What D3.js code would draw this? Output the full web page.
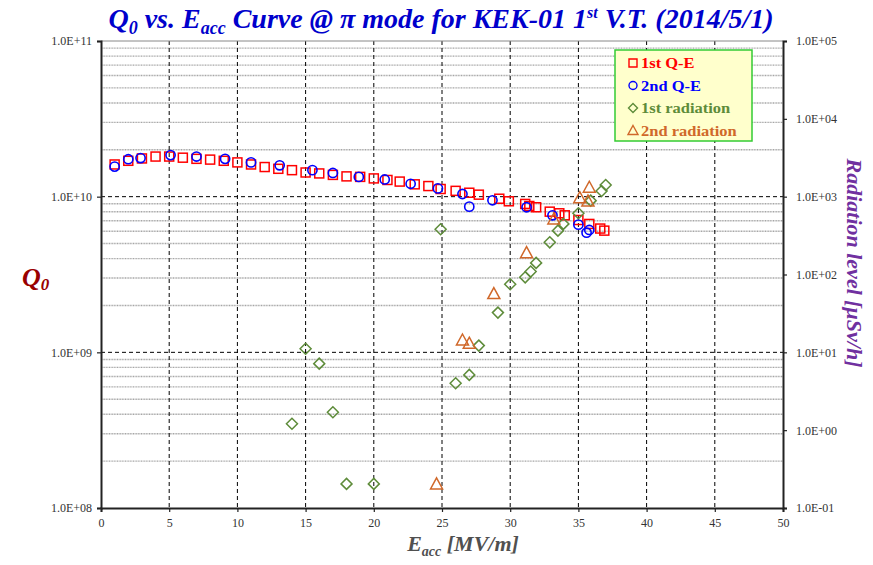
<!DOCTYPE html>
<html>
<head>
<meta charset="utf-8">
<script src="https://cdn.jsdelivr.net/npm/d3@7"></script>
<style>
  body { margin: 0; background: #fff; }
  text { font-family: "Liberation Serif", "Times New Roman", serif; }
</style>
</head>
<body>
<div id="chart"></div>
<script>
// 1st Q-E (red squares)
const eQE1 = [1, 2, 3, 4, 5, 6, 7, 8, 9, 10, 11, 12, 13, 14, 15, 16, 17, 18, 19, 20,
    21, 21.9, 23, 24, 24.9, 26, 27, 27.7, 29.2, 29.9, 31.1, 31.4, 31.9, 32.9, 33.6, 34, 35, 35.8, 36.6, 36.9];
const qQE1 = [1.61e10, 1.70e10, 1.76e10, 1.81e10, 1.81e10, 1.78e10, 1.75e10, 1.73e10, 1.70e10, 1.66e10,
    1.61e10, 1.55e10, 1.51e10, 1.48e10, 1.43e10, 1.41e10, 1.38e10, 1.35e10, 1.34e10, 1.31e10,
    1.28e10, 1.25e10, 1.20e10, 1.17e10, 1.12e10, 1.09e10, 1.06e10, 1.03e10, 9.7e9, 9.34e9,
    8.98e9, 8.71e9, 8.55e9, 8.01e9, 7.82e9, 7.59e9, 7.08e9, 6.68e9, 6.24e9, 6.05e9];

// 2nd Q-E (blue circles)
const eQE2 = [1, 2, 2.9, 5.1, 7, 9.1, 11, 13.1, 15.5, 17, 18.9, 20.8, 22.7, 24.7, 26.5, 27, 28.7, 31.2, 33.1, 35, 35.8, 35.6];
const qQE2 = [1.56e10, 1.74e10, 1.77e10, 1.85e10, 1.81e10, 1.75e10, 1.66e10, 1.59e10, 1.48e10, 1.42e10,
    1.34e10, 1.29e10, 1.21e10, 1.13e10, 1.04e10, 8.63e9, 9.48e9, 8.55e9, 7.59e9, 6.61e9, 6.11e9, 5.87e9];

// 1st radiation (green diamonds), uSv/h
const eRad1 = [14, 15, 16, 17, 18, 20, 24.9, 26, 27, 27.7, 29.1, 30, 31.1, 31.5, 31.9, 32.9, 33.5, 33.9, 35, 35.9, 36.7, 37];
const rad1 = [1.21, 11.1, 7.16, 1.70, 0.204, 0.204, 381, 4.0, 5.13, 12.2, 32.4, 75, 92, 109, 141, 259, 366, 447, 612, 889, 1183, 1413];

// 2nd radiation (orange triangles), uSv/h
const eRad2 = [24.6, 26.5, 27, 28.8, 31.2, 33.2, 35.1, 35.7, 35.8];
const rad2 = [0.204, 14.4, 13.1, 56.8, 191, 517, 970, 881, 1321];

const xTicks = [0, 5, 10, 15, 20, 25, 30, 35, 40, 45, 50];
const qTicks = [1e8, 1e9, 1e10, 1e11];
const radTicks = [1e-1, 1e0, 1e1, 1e2, 1e3, 1e4, 1e5];
const legendNames = ["1st Q-E", "2nd Q-E", "1st radiation", "2nd radiation"];
const colors = ["#ff0000", "#0000ff", "#5e8c3a", "#d0682a"];

const W = 873, H = 565;
const plotL = 101, plotR = 783, plotT = 41, plotB = 508;

const svg = d3.select("#chart")
    .append("svg")
    .attr("width", W)
    .attr("height", H);

const x = d3.scaleLinear().domain([0, 50]).range([plotL, plotR]);
const y = d3.scaleLog().domain([1e8, 1e11]).range([plotB, plotT]);
const y2 = d3.scaleLog().domain([1e-1, 1e5]).range([plotB, plotT]);

function sci(d) {
    const e = Math.round(Math.log10(d));
    const s = Math.abs(e) < 10 ? "0" + Math.abs(e) : "" + Math.abs(e);
    return "1.0E" + (e < 0 ? "-" : "+") + s;
}

// minor horizontal grid
const minors = [];
[1e8, 1e9, 1e10].forEach(function (dec) {
    for (let k = 2; k <= 9; k++) minors.push(dec * k);
});
svg.append("g").selectAll("line")
    .data(minors)
    .enter()
    .append("line")
    .attr("x1", plotL).attr("x2", plotR)
    .attr("y1", function (d) { return y(d); })
    .attr("y2", function (d) { return y(d); })
    .attr("stroke", "#a6a6a6")
    .attr("stroke-width", 1.4)
    .attr("stroke-dasharray", "1,0.6");

// major horizontal dashed grid
svg.append("g").selectAll("line")
    .data([1e9, 1e10])
    .enter()
    .append("line")
    .attr("x1", plotL).attr("x2", plotR)
    .attr("y1", function (d) { return y(d); })
    .attr("y2", function (d) { return y(d); })
    .attr("stroke", "#000")
    .attr("stroke-width", 1)
    .attr("stroke-dasharray", "4,3");

// vertical dashed grid
svg.append("g").selectAll("line")
    .data(xTicks.slice(1, -1))
    .enter()
    .append("line")
    .attr("x1", function (d) { return x(d); })
    .attr("x2", function (d) { return x(d); })
    .attr("y1", plotT).attr("y2", plotB)
    .attr("stroke", "#000")
    .attr("stroke-width", 1)
    .attr("stroke-dasharray", "4,3");

// top border
svg.append("line")
    .attr("x1", plotL).attr("x2", plotR)
    .attr("y1", plotT).attr("y2", plotT)
    .attr("stroke", "#888").attr("stroke-width", 1);

// axes
svg.append("g")
    .attr("class", "axes")
    .attr("transform", `translate(0, ${plotB})`)
    .call(d3.axisBottom(x).tickValues(xTicks).tickSize(4).tickPadding(6));
svg.append("g")
    .attr("class", "axes")
    .attr("transform", `translate(${plotL}, 0)`)
    .call(d3.axisLeft(y).tickValues(qTicks).tickFormat(sci).tickSize(4).tickPadding(5));
svg.append("g")
    .attr("class", "axes")
    .attr("transform", `translate(${plotR}, 0)`)
    .call(d3.axisRight(y2).tickValues(radTicks).tickFormat(sci).tickSize(4).tickPadding(9));

svg.selectAll(".axes .domain").attr("stroke", "#222").attr("stroke-width", 2);
svg.selectAll(".axes .tick line").attr("stroke", "#222").attr("stroke-width", 1.2);
svg.selectAll(".axes text")
    .style("font-family", "'Liberation Serif', serif")
    .style("font-size", "12px")
    .attr("fill", "#333");

// markers
const sq = 9;
svg.append("g").selectAll("rect")
    .data(d3.zip(eQE1, qQE1))
    .enter()
    .append("rect")
    .attr("x", function (d) { return x(d[0]) - sq / 2; })
    .attr("y", function (d) { return y(d[1]) - sq / 2; })
    .attr("width", sq).attr("height", sq)
    .attr("fill", "none")
    .attr("stroke", colors[0])
    .attr("stroke-width", 1.5);

svg.append("g").selectAll("circle")
    .data(d3.zip(eQE2, qQE2))
    .enter()
    .append("circle")
    .attr("cx", function (d) { return x(d[0]); })
    .attr("cy", function (d) { return y(d[1]); })
    .attr("r", 4.6)
    .attr("fill", "none")
    .attr("stroke", colors[1])
    .attr("stroke-width", 1.6);

const diamond = "M0,-5.5L5.5,0L0,5.5L-5.5,0Z";
const triangle = "M0,-6L6,5L-6,5Z";

svg.append("g").selectAll("path")
    .data(d3.zip(eRad1, rad1))
    .enter()
    .append("path")
    .attr("d", diamond)
    .attr("transform", function (d) { return `translate(${x(d[0])}, ${y2(d[1])})`; })
    .attr("fill", "none")
    .attr("stroke", colors[2])
    .attr("stroke-width", 1.5);

svg.append("g").selectAll("path")
    .data(d3.zip(eRad2, rad2))
    .enter()
    .append("path")
    .attr("d", triangle)
    .attr("transform", function (d) { return `translate(${x(d[0])}, ${y2(d[1])})`; })
    .attr("fill", "none")
    .attr("stroke", colors[3])
    .attr("stroke-width", 1.5);

// legend
const lg = svg.append("g").attr("transform", "translate(615, 50)");
lg.append("rect")
    .attr("width", 137).attr("height", 91)
    .attr("fill", "#ffffcc")
    .attr("stroke", "#33cc33")
    .attr("stroke-width", 1.5);
const shapes = [
    "M-4,-4H4V4H-4Z",
    "M4,0A4,4 0 1,1 -4,0A4,4 0 1,1 4,0Z",
    "M0,-4.5L4.5,0L0,4.5L-4.5,0Z",
    "M0,-5L5,4L-5,4Z"
];
legendNames.forEach(function (name, i) {
    const row = lg.append("g").attr("transform", `translate(18, ${13 + i * 22.5})`);
    row.append("path")
        .attr("d", shapes[i])
        .attr("fill", "none")
        .attr("stroke", colors[i])
        .attr("stroke-width", 1.4);
    row.append("text")
        .attr("transform", "translate(8, 5) scale(1.1, 1)")
        .attr("fill", colors[i])
        .style("font-size", "15px")
        .style("font-weight", "bold")
        .text(name);
});

// title
const title = svg.append("text")
    .attr("x", 441)
    .attr("y", 28)
    .attr("text-anchor", "middle")
    .attr("fill", "#0000cc")
    .style("font-size", "28px")
    .style("font-weight", "bold")
    .style("font-style", "italic");
title.append("tspan").text("Q");
title.append("tspan").attr("dy", 6).style("font-size", "18px").text("0");
title.append("tspan").attr("dy", -6).text(" vs. E");
title.append("tspan").attr("dy", 6).style("font-size", "18px").text("acc");
title.append("tspan").attr("dy", -6).text(" Curve @ π mode for KEK-01 1");
title.append("tspan").attr("dy", -10).style("font-size", "16px").text("st");
title.append("tspan").attr("dy", 10).text(" V.T. (2014/5/1)");

// left label
const ql = svg.append("text")
    .attr("x", 22)
    .attr("y", 286)
    .attr("fill", "#990000")
    .style("font-size", "26px")
    .style("font-weight", "bold")
    .style("font-style", "italic");
ql.append("tspan").text("Q");
ql.append("tspan").attr("dy", 4).style("font-size", "17px").text("0");

// right label
svg.append("text")
    .attr("transform", "translate(847, 263) rotate(90)")
    .attr("text-anchor", "middle")
    .attr("fill", "#7030a0")
    .style("font-size", "22px")
    .style("font-weight", "bold")
    .style("font-style", "italic")
    .text("Radiation level [μSv/h]");

// x label
const xl = svg.append("text")
    .attr("x", 463)
    .attr("y", 551)
    .attr("text-anchor", "middle")
    .attr("fill", "#505050")
    .style("font-size", "22px")
    .style("font-weight", "bold")
    .style("font-style", "italic");
xl.append("tspan").text("E");
xl.append("tspan").attr("dy", 5).style("font-size", "14px").text("acc");
xl.append("tspan").attr("dy", -5).text(" [MV/m]");
</script>
</body>
</html>
